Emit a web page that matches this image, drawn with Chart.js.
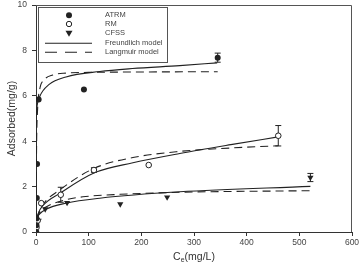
<!DOCTYPE html>
<html>
<head>
<meta charset="utf-8">
<script src="https://cdn.jsdelivr.net/npm/chart.js@4.4.1/dist/chart.umd.min.js"></script>
<style>
  html, body { margin: 0; padding: 0; background: #fff; }
</style>
</head>
<body>
<canvas id="isotherm-chart" width="359" height="268"></canvas>
<script>
/* measured points: Ce (mg/L) vs adsorbed (mg/g), with error bar half heights */
let atrmCe = [0.5, 0.8, 1, 1.5, 2, 5, 91, 345]
let atrmQ = [0, 0.3, 0.6, 1.5, 3.0, 5.84, 6.28, 7.68]
let atrmErr = [0, 0, 0, 0, 0, 0, 0, 0.2]

let rmCe = [1, 3, 10, 47, 110, 214, 460]
let rmQ = [0.2, 0.5, 1.27, 1.64, 2.73, 2.95, 4.24]
let rmErr = [0, 0, 0, 0.33, 0.1, 0, 0.45]

let cfssCe = [5, 17.5, 59, 160, 249, 521]
let cfssQ = [0.5, 1.01, 1.29, 1.23, 1.53, 2.4]
let cfssErr = [0, 0, 0, 0, 0, 0.18]

/* model curves */
let atrmFreundCe = [0, 0.05, 0.5, 2, 6.7, 25, 57, 121, 183, 273, 344]
let atrmFreundQ = [0, 4.4, 5.1, 5.55, 5.95, 6.5, 6.83, 7.07, 7.2, 7.33, 7.45]
let atrmLangCe = [0, 1, 3, 6.7, 16, 32, 57, 100, 200, 345]
let atrmLangQ = [0, 3.6, 5.4, 6.24, 6.71, 6.92, 7.0, 7.03, 7.05, 7.06]

let rmFreundCe = [0, 1, 5, 13, 45, 110, 184, 273, 370, 460]
let rmFreundQ = [0, 0.45, 0.85, 1.16, 1.7, 2.6, 3.05, 3.46, 3.85, 4.19]
let rmLangCe = [0, 5, 13, 45, 110, 184, 273, 370, 460]
let rmLangQ = [0, 0.8, 1.2, 1.85, 2.8, 3.28, 3.55, 3.7, 3.8]

let cfssFreundCe = [0, 2, 5, 19, 57, 121, 273, 521]
let cfssFreundQ = [0, 0.6, 0.75, 1.0, 1.27, 1.49, 1.77, 2.01]
let cfssLangCe = [0, 5, 19, 57, 89, 160, 273, 521]
let cfssLangQ = [0, 0.75, 1.1, 1.42, 1.55, 1.66, 1.75, 1.82]

let xTicks = [0, 100, 200, 300, 400, 500, 600]
let yTicks = [0, 2, 4, 6, 8, 10]

let legendMarkers = ['ATRM', 'RM', 'CFSS']
let legendLines = ['Freundlich model', 'Langmuir model']

let fontFamily = '"Liberation Sans", Arial, sans-serif'
let ink = '#222'

function toPoints(xs, ys) {
    return xs.map((x, i) => ({ x: x, y: ys[i] }))
}

function curve(xs, ys, dashed) {
    return {
        type: 'scatter',
        data: toPoints(xs, ys),
        showLine: true,
        borderColor: ink,
        borderWidth: 1.1,
        borderDash: dashed ? [8, 5] : [],
        cubicInterpolationMode: 'monotone',
        pointRadius: 0,
        fill: false
    }
}

// error bars go under the markers, legend + frame + titles on top
let extras = {
    id: 'extras',
    beforeDatasetsDraw(chart) {
        let ctx = chart.ctx
        let xs = chart.scales.x
        let ys = chart.scales.y
        let groups = [[atrmCe, atrmQ, atrmErr], [rmCe, rmQ, rmErr], [cfssCe, cfssQ, cfssErr]]
        ctx.save()
        ctx.strokeStyle = ink
        ctx.lineWidth = 1
        groups.forEach(g => {
            g[0].forEach((ce, i) => {
                let e = g[2][i]
                if (!e) return
                let px = xs.getPixelForValue(ce)
                let top = ys.getPixelForValue(g[1][i] + e)
                let bot = ys.getPixelForValue(g[1][i] - e)
                ctx.beginPath()
                ctx.moveTo(px, top); ctx.lineTo(px, bot)
                ctx.moveTo(px - 3, top); ctx.lineTo(px + 3, top)
                ctx.moveTo(px - 3, bot); ctx.lineTo(px + 3, bot)
                ctx.stroke()
            })
        })
        ctx.restore()
    },
    afterDraw(chart) {
        let ctx = chart.ctx
        let area = chart.chartArea
        ctx.save()

        // top and right edges of the frame
        ctx.strokeStyle = '#555'
        ctx.lineWidth = 1
        ctx.beginPath()
        ctx.moveTo(area.left, area.top + 0.5)
        ctx.lineTo(area.right - 0.5, area.top + 0.5)
        ctx.lineTo(area.right - 0.5, area.bottom)
        ctx.stroke()

        // legend box
        let lx = area.left + 2
        let ly = area.top + 2.5
        ctx.strokeRect(lx + 0.5, ly, 129, 55)

        let mx = 69
        let tx = 105
        let rows = [15.3, 24, 33.3, 43.3, 52.3]
        ctx.fillStyle = ink
        ctx.strokeStyle = ink
        // filled circle
        ctx.beginPath(); ctx.arc(mx, rows[0], 3, 0, Math.PI * 2); ctx.fill()
        // open circle
        ctx.beginPath(); ctx.arc(mx, rows[1], 2.7, 0, Math.PI * 2)
        ctx.fillStyle = '#fff'; ctx.fill(); ctx.lineWidth = 1; ctx.stroke()
        // down triangle
        ctx.fillStyle = ink
        ctx.beginPath()
        ctx.moveTo(mx - 3.5, rows[2] - 2.5)
        ctx.lineTo(mx + 3.5, rows[2] - 2.5)
        ctx.lineTo(mx, rows[2] + 3.5)
        ctx.closePath(); ctx.fill()
        // line samples
        ctx.lineWidth = 1.1
        ctx.beginPath(); ctx.moveTo(45, rows[3]); ctx.lineTo(92, rows[3]); ctx.stroke()
        ctx.setLineDash([12, 8])
        ctx.beginPath(); ctx.moveTo(45, rows[4]); ctx.lineTo(92, rows[4]); ctx.stroke()
        ctx.setLineDash([])

        ctx.fillStyle = '#444'
        ctx.font = '7.5px ' + fontFamily
        ctx.textBaseline = 'middle'
        ctx.textAlign = 'left'
        let labels = legendMarkers.concat(legendLines)
        labels.forEach((t, i) => ctx.fillText(t, tx, rows[i]))

        // axis titles
        ctx.fillStyle = '#333'
        ctx.font = '10.5px ' + fontFamily
        ctx.save()
        ctx.translate(12, (area.top + area.bottom) / 2)
        ctx.rotate(-Math.PI / 2)
        ctx.textAlign = 'center'
        ctx.fillText('Adsorbed(mg/g)', 0, 0)
        ctx.restore()

        let cx = (area.left + area.right) / 2
        let wC = ctx.measureText('C').width
        let wRest = ctx.measureText('(mg/L)').width
        ctx.font = '7px ' + fontFamily
        let wSub = ctx.measureText('e').width
        let startX = cx - (wC + wSub + wRest) / 2
        ctx.textAlign = 'left'
        ctx.font = '10.5px ' + fontFamily
        ctx.fillText('C', startX, 257)
        ctx.font = '7px ' + fontFamily
        ctx.fillText('e', startX + wC, 260)
        ctx.font = '10.5px ' + fontFamily
        ctx.fillText('(mg/L)', startX + wC + wSub, 257)

        ctx.restore()
    }
}

let ctx = document.querySelector('#isotherm-chart').getContext('2d')

let isothermChart = new Chart(ctx, {
    type: 'scatter',
    data: {
        datasets: [
            {
                label: 'ATRM',
                data: toPoints(atrmCe, atrmQ),
                pointStyle: 'circle',
                pointRadius: 3,
                backgroundColor: ink,
                borderColor: ink,
                borderWidth: 0
            },
            {
                label: 'RM',
                data: toPoints(rmCe, rmQ),
                pointStyle: 'circle',
                pointRadius: 2.8,
                backgroundColor: '#fff',
                borderColor: ink,
                borderWidth: 1
            },
            {
                label: 'CFSS',
                data: toPoints(cfssCe, cfssQ),
                pointStyle: 'triangle',
                rotation: 180,
                pointRadius: 3.6,
                backgroundColor: ink,
                borderColor: ink,
                borderWidth: 0
            },
            curve(atrmFreundCe, atrmFreundQ, false),
            curve(atrmLangCe, atrmLangQ, true),
            curve(rmFreundCe, rmFreundQ, false),
            curve(rmLangCe, rmLangQ, true),
            curve(cfssFreundCe, cfssFreundQ, false),
            curve(cfssLangCe, cfssLangQ, true)
        ]
    },
    options: {
        responsive: false,
        animation: false,
        devicePixelRatio: 1,
        layout: { padding: { top: 4, right: 7, left: 0, bottom: 0 } },
        plugins: {
            legend: { display: false },
            tooltip: { enabled: false }
        },
        scales: {
            x: {
                type: 'linear',
                min: 0,
                max: 600,
                afterBuildTicks(scale) { scale.ticks = xTicks.map(v => ({ value: v })) },
                ticks: { color: '#444', padding: 2, font: { family: fontFamily, size: 8.5 } },
                grid: { drawOnChartArea: false, drawTicks: true, tickLength: 4, color: '#333' },
                border: { display: true, color: '#333', width: 1 },
                afterFit(scale) {
                    scale.height = 36
                    scale.paddingLeft = 0
                    scale.paddingRight = 0
                }
            },
            y: {
                type: 'linear',
                min: 0,
                max: 10,
                afterBuildTicks(scale) { scale.ticks = yTicks.map(v => ({ value: v })) },
                ticks: { color: '#444', padding: 5, font: { family: fontFamily, size: 8.5 } },
                grid: { drawOnChartArea: false, drawTicks: true, tickLength: 4, color: '#333' },
                border: { display: true, color: '#333', width: 1 },
                afterFit(scale) {
                    scale.width = 36
                    scale.paddingTop = 0
                    scale.paddingBottom = 0
                }
            }
        }
    },
    plugins: [extras]
})
</script>
</body>
</html>
